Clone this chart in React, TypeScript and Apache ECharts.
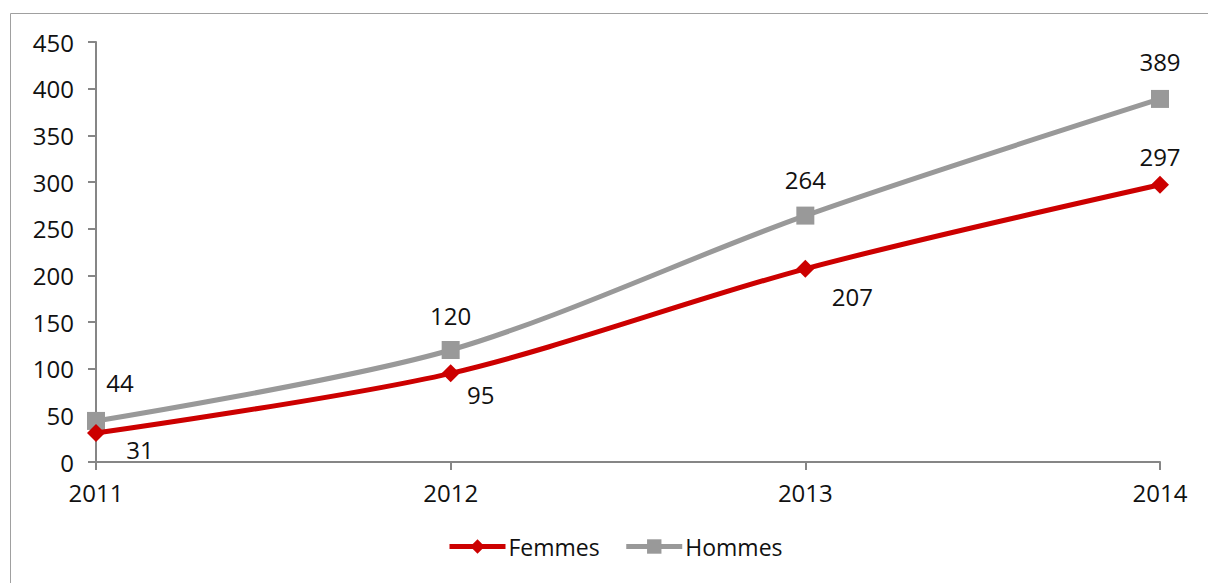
import React, { useEffect, useRef } from "react";
import * as echarts from "echarts";

const years = ["2011", "2012", "2013", "2014"];
const femmes = [31, 95, 207, 297];
const hommes = [44, 120, 264, 389];
const femmesLabelOffsets = [[44, 16], [30, 21], [47, 28], [0, -28]];
const hommesLabelOffsets = [[24, -38], [0, -35], [0, -36], [0, -37]];

const FONT = "'Open Sans', 'Noto Sans', sans-serif";
const FS = 24;

export default function App() {
  const ref = useRef<HTMLDivElement>(null);
  useEffect(() => {
    if (!ref.current) return;
    const chart = echarts.init(ref.current, null, { renderer: "svg" });
    const mk = (vals: number[], offs: number[][]) =>
      vals.map((v, i) => ({
        value: v,
        label: { show: true, position: "inside", offset: offs[i] },
      }));
    chart.setOption({
      animation: false,
      textStyle: { fontFamily: FONT },
      graphic: [
        {
          type: "rect",
          shape: { x: 10.5, y: 13.5, width: 1400, height: 800 },
          style: { fill: "none", stroke: "#a0a0a0", lineWidth: 1 },
          silent: true,
        },
      ],
      grid: { left: 96, right: 48, top: 42, bottom: 121 },
      legend: {
        bottom: 20,
        left: 442,
        itemWidth: 56,
        itemHeight: 18,
        itemGap: 24,
        lineStyle: { width: 5 },
        textStyle: { fontSize: 23, color: "#111", fontFamily: FONT, padding: [0, 0, 0, -2] },
        data: ["Femmes", "Hommes"],
      },
      xAxis: {
        type: "category",
        data: years,
        boundaryGap: false,
        axisLine: { lineStyle: { color: "#868686", width: 2 } },
        axisTick: { show: true, length: 8, lineStyle: { color: "#868686", width: 2 } },
        axisLabel: { fontSize: FS, color: "#111", margin: 18, fontFamily: FONT },
        splitLine: { show: false },
      },
      yAxis: {
        type: "value",
        min: 0,
        max: 450,
        interval: 50,
        axisLine: { show: true, lineStyle: { color: "#868686", width: 2 } },
        axisTick: { show: true, length: 8, lineStyle: { color: "#868686", width: 2 } },
        axisLabel: { fontSize: FS, color: "#111", margin: 22, fontFamily: FONT },
        splitLine: { show: false },
      },
      series: [
        {
          name: "Hommes",
          type: "line",
          smooth: 0.3,
          data: mk(hommes, hommesLabelOffsets),
          symbol: "rect",
          symbolSize: 18,
          lineStyle: { color: "#999999", width: 5 },
          itemStyle: { color: "#999999" },
          label: { fontSize: FS, color: "#111", fontFamily: FONT },
          z: 2,
        },
        {
          name: "Femmes",
          type: "line",
          smooth: 0.3,
          data: mk(femmes, femmesLabelOffsets),
          symbol: "diamond",
          symbolSize: 18,
          lineStyle: { color: "#CC0000", width: 5 },
          itemStyle: { color: "#CC0000" },
          label: { fontSize: FS, color: "#111", fontFamily: FONT },
          z: 3,
        },
      ],
    });
    return () => chart.dispose();
  }, []);
  return (
    <div
      ref={ref}
      style={{ position: "fixed", left: 0, top: 0, width: 1208, height: 583, background: "#fff" }}
    />
  );
}
